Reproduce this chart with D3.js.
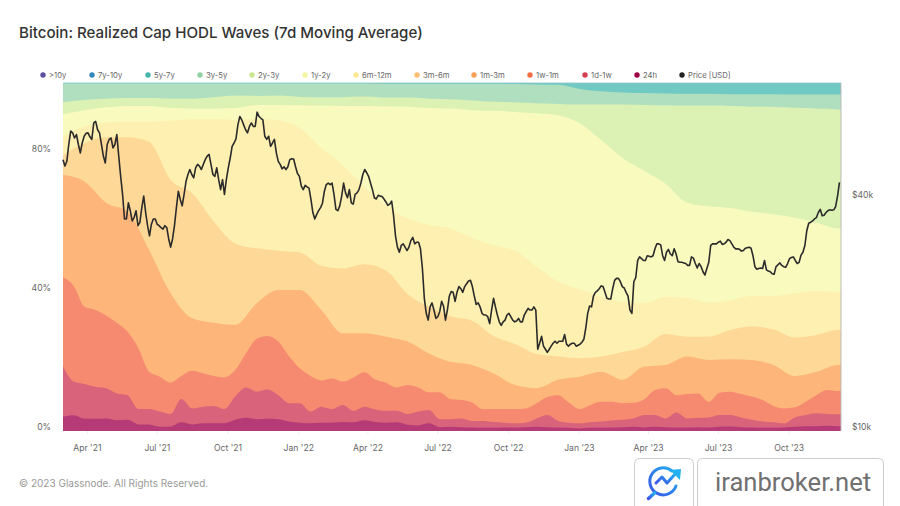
<!DOCTYPE html>
<html>
<head>
<meta charset="utf-8">
<script src="https://cdn.jsdelivr.net/npm/d3@7"></script>
<style>
html, body { margin: 0; padding: 0; background: #fff; }
svg { display: block; }
text { font-family: Inter, "Noto Sans", sans-serif; }
</style>
</head>
<body>
<svg id="chart" width="900" height="506"></svg>
<script>
// top edge of each band, cumulative percent of realized cap, sampled every 28 days
var top3to5 = [99.9,99.9,99.9,99.9,99.9,99.9,99.9,99.9,99.9,99.9,99.9,99.9,99.9,99.9,99.9,99.8,99.8,99.8,99.8,99.8,99.8,99.7,99.6,99.5,98.3,97.6,97.3,97.1,97,96.9,96.9,96.8,96.8,96.8,96.7,96.7,96.7,96.7];
var top2to3 = [94.5,95.1,95.5,95.7,95.7,95.5,95.5,95.9,96.4,96.3,96.4,96,95.9,95.9,96.1,95.8,95.8,95.5,95.3,95,94.6,94.4,94.2,94,93.8,93.8,93.8,93.7,93.6,93.5,93.5,93.4,93.2,93.1,92.9,92.7,92.4,92.3];
var top1to2 = [91,92.2,93,93.4,93.4,92.8,92.7,92.7,92.8,93.7,93.7,93.6,93.5,93.4,93.4,93.3,93.2,92.8,92.7,92.2,92,91.7,91.3,90.7,88.4,83.6,78.4,74.8,71,65.6,64.6,64.1,63,62.3,61.3,59.9,58.2,58.2];
var top6to12m = [84.6,87.5,88.6,88.9,88.9,89.2,89.6,89.6,89.4,89.6,89.2,87,81.4,76.4,70.2,64.9,61.1,59.2,58.2,55.4,53.4,51.8,47.2,42.9,40.7,38.5,37.1,36.8,38.5,38.2,36.9,37.6,38.8,38.8,39.6,40.2,39.9,39.9];
var top3to6m = [79.3,82.7,84.4,84.4,83.1,72.1,68.3,60.2,53.9,52.5,51.8,51.3,47.5,46.7,47.9,46.1,39.4,35.7,33,31.7,27.3,25,22.1,21.4,20.9,21.4,22.7,24.2,27.9,27.1,27.1,29,30,29.2,26.9,27.6,29,29];
var top1to3m = [73.6,71.6,65.6,63,52,39.6,32.4,31.1,30.5,36.7,40.5,40.5,34.8,28.1,28.1,27.1,25.7,22.3,19.9,19,16.6,13.2,12.3,14.7,15.6,17,14.7,18.5,19,21.4,20.4,20.6,20.4,19,15.8,17,19,19];

// lower bands move faster, sampled every 14 days
var top1wto1m = [44.2,41.7,35.7,34.8,33.2,31.1,28.5,23.8,17,15.6,13.9,15.8,17.3,16.6,15.8,15.4,17.5,22.3,26.5,27.3,25.7,21.5,18,15.8,14.5,15.1,14.2,15.4,16.9,14.8,13.9,12.5,13.2,12.5,11.1,11.1,9.1,8.9,8.2,6.3,6.3,6.3,6.3,6.5,8,9.8,10.3,8.2,6.3,7.5,8.4,8.4,8,8.1,9.1,11.8,12.3,10.3,10.6,10.8,8.4,11,11.3,10.6,9.9,8.9,7.2,6.5,6.8,8.4,10.3,11.8,11.5,11.5];
var top1dto1w = [18.5,14.2,13.5,12.7,12.3,10.8,10.3,6.3,6.3,5.6,4.9,9.2,6.5,7,7.2,6.3,9.9,12.5,11.3,11.9,10.3,8,8,5.6,7,6.3,7.5,5.8,7,6.2,5.8,5.8,4.9,5.6,6,3.4,3.4,3.6,2.9,2.9,2.6,2.4,2.2,2.4,3.6,4.6,2.9,2.4,2.2,2.5,2.7,3,3.2,3.6,4.6,4.6,3.6,5.3,3.6,3.8,3.9,4.6,4.6,3.9,3.2,2.7,2.5,2.2,3.9,4.6,5.1,4.9,4.8,4.8];
var top24h = [4.1,4.5,3.5,3.5,3.6,3.1,3.2,1.9,1.9,1.2,1.3,2.5,1.9,2.2,2.2,2.2,3.2,3.8,3.4,3.5,3.4,2.7,2.4,2.2,2.4,2.4,2.6,2.5,3.1,2.6,2.4,2.5,1.8,1.6,2.2,1.1,1.2,1.1,1,.9,.9,1,1,1.1,1.2,1.1,1,.9,.7,.9,.9,1,1.1,1.2,1,1.2,1.1,1,1,1.1,1,1.2,1.3,1.1,1,.9,.9,1,1.2,1.4,1.4,1.5,1.4,1.4];

// BTC price in thousands of USD, every 5 days from the start
var priceK = [50.6,50.1,60,57.6,55.4,55.9,59.2,58,63,60.5,55.4,49.6,57.1,54.3,58.8,45.8,35.5,39.1,35.1,37.3,34.8,40.7,34.1,34.4,35.5,34.1,33.4,33.7,30,34.1,41.9,38.4,44.4,47.7,45.4,49.2,47.7,50.6,52.2,46.3,48.2,42.3,41.1,48.2,54.8,57.3,65.5,62.3,59.4,63,61.7,
  65.5,64.2,57.1,54.8,57.1,50.1,47.9,47.7,50.6,50.8,46.6,43.2,43.4,42.7,36.9,36.5,38,41.9,44,44,37.6,38.4,44,40.3,39.1,41.1,42.3,46.3,46.8,44,40.3,40.9,40.6,39.3,38.8,36.2,30,30.3,30,30,31.8,30.9,29.7,22.1,19.4,21.5,19.6,20.4,21.1,
  20.6,23,21.7,23.7,22.9,24.1,24.6,22.4,21.5,20.2,20,19,22.1,20,18.8,19.4,20.2,19.4,19.3,19.2,20,20.8,20.6,20.6,16.9,16.6,16,16.6,17.1,17.1,17.1,16.8,16.8,16.9,16.7,17,18.5,21.1,22.4,23.1,23.8,22.9,22,23.4,24.9,24.4,23.5,22.4,20.2,
  25,28.3,27.7,28.5,28.3,29.7,30.6,28.5,29.1,28.8,29.7,27.5,27.4,27.2,26.9,28.1,26.5,26.7,25.4,27.4,30.6,30.6,31.1,30.6,31.4,30.6,29.7,29.6,29.4,29.9,29.8,26.7,26.4,26.4,26.2,25.9,25.5,27,26.9,26.6,28,28.3,27.2,28.6,30.3,34.6,35.1,35.8,37.6,36.3,37.3,37.4,38.2,44.2];
// readings halfway between those samples
var priceMidK = [48.7,55.4,59.4,58.8,52.7,58.2,59.4,57.1,63.6,59.4,51.7,55.4,57.6,55.4,51.7,41.1,35.5,37.3,35.8,34.1,38,36.9,32.1,35.5,34.4,33.7,34.1,31.5,31.5,38,39.9,41.1,46.3,46.3,48.2,48.7,49.2,51.7,49.2,45.8,44.9,44.9,44.9,51.1,55.9,62.3,64.2,60.5,61.7,61.7,67.2,
  64.8,58.2,58.2,55.9,52.7,49.2,48.5,48.5,50.9,48.5,45.8,42.3,43,39.9,35.5,37.3,39,43.6,43.6,41.1,37.3,40.7,41.5,42.3,38.8,41.5,44,47.7,45.8,42.3,40,40.7,40,38.5,39.5,32.1,29.1,30.6,29.4,31.2,30.6,30.9,26.4,20.2,21,20.6,19.8,21.7,19.4,
  22.4,22.9,22.9,23.4,23.7,24.5,23.7,21.3,21,20,19.8,20.6,21,19.2,19.2,20,19.8,19.2,19.6,19.2,20.4,20.6,21,16.3,17.6,16.3,16.3,16.9,16.9,17.1,17.8,16.6,16.9,16.6,16.8,17.3,20.2,21,22.9,23.4,23.7,22.1,22,24.6,24.9,23.7,22.9,20.6,24.4,
  27.7,28,27.7,28.4,28.5,30.6,30.4,27.7,29.6,28.5,28.8,27.4,27.3,26.9,28.3,27.2,27.2,25.9,26.4,30.3,30.6,30.9,30.5,30.9,31.2,30,29.7,29.3,29.8,30,28.5,26.3,26.5,27.7,26,25.6,26.7,27.3,26.7,27.2,28.2,27.7,27.4,29.1,33.1,34.8,35.5,36.9,36.2,36.9,37.5,37.5,40.7];

var pctTicks = [0, 40, 80];
var priceTicks = [10, 40];
var legendNames = ['>10y', '7y-10y', '5y-7y', '3y-5y', '2y-3y', '1y-2y', '6m-12m', '3m-6m', '1m-3m', '1w-1m', '1d-1w', '24h', 'Price [USD]'];
var legendColors = ['#5e4fa2', '#3288bd', '#45b5aa', '#8fd3a5', '#c9e88f', '#f4f6a0', '#fee88f', '#fdbe6f', '#f99e55', '#f06d43', '#d53e4f', '#9e0142', '#222222'];
var legendX = [43, 92, 148, 200, 252, 305, 356, 417, 474, 530, 585, 637, 682];

var start = new Date(Date.UTC(2021, 2, 1));
var end = new Date(Date.UTC(2023, 11, 8));

function everyDays(step, count) {
    return d3.range(count).map(function(i) {
        return d3.utcDay.offset(start, i * step);
    });
}
// last sample sits on the right edge of the plot
var dates28 = everyDays(28, 37).concat([end]);
var dates14 = everyDays(14, 73).concat([end]);

// interleave the price readings, 2.5 days apart
var pricePoints = [];
priceK.forEach(function(v, i) {
    pricePoints.push({ date: d3.utcHour.offset(start, i * 120), value: v });
    if (i < priceMidK.length) {
        pricePoints.push({ date: d3.utcHour.offset(start, i * 120 + 60), value: priceMidK[i] });
    }
});

var left = 63, right = 841, plotTop = 83, plotBottom = 431;
var svg = d3.select('#chart');

var x = d3.scaleUtc().domain([start, end]).range([left, right]);
var y = d3.scaleLinear().domain([0, 100]).range([plotBottom, plotTop]);
var yPrice = d3.scaleLog().domain([10, 80]).range([plotBottom, plotTop]);

svg.append('text')
    .attr('x', 19).attr('y', 37.5)
    .attr('font-size', 15.1).attr('font-weight', 500).attr('fill', '#333')
    .text('Bitcoin: Realized Cap HODL Waves (7d Moving Average)');

// legend
legendNames.forEach(function(name, i) {
    svg.append('circle').attr('cx', legendX[i]).attr('cy', 75).attr('r', 2.7).attr('fill', legendColors[i]);
    svg.append('text').attr('x', legendX[i] + 6).attr('y', 78)
        .attr('font-size', 7.7).attr('fill', '#666').text(name);
});

// bands are painted from the biggest down, each one covers the rest of the plot below it
var bands = [
    { color: '#70c9c3', dates: [start, end], values: [100, 100] },
    { color: '#b0dfbf', dates: dates28, values: top3to5 },
    { color: '#dcf2b5', dates: dates28, values: top2to3 },
    { color: '#f9fabd', dates: dates28, values: top1to2 },
    { color: '#fdf0b0', dates: dates28, values: top6to12m },
    { color: '#fdd896', dates: dates28, values: top3to6m },
    { color: '#fdb57a', dates: dates28, values: top1to3m },
    { color: '#f58a70', dates: dates14, values: top1wto1m },
    { color: '#d8637a', dates: dates14, values: top1dto1w },
    { color: '#b53a75', dates: dates14, values: top24h }
];

bands.forEach(function(band) {
    var area = d3.area()
        .x(function(d, i) { return x(band.dates[i]); })
        .y0(y(0))
        .y1(function(d) { return y(d); })
        .curve(d3.curveMonotoneX);
    svg.append('path').attr('d', area(band.values)).attr('fill', band.color);
});

// right edge of the plot
svg.append('line')
    .attr('x1', right).attr('x2', right).attr('y1', plotTop).attr('y2', plotBottom)
    .attr('stroke', '#bbb').attr('stroke-width', 1);
svg.append('line')
    .attr('x1', left).attr('x2', right).attr('y1', plotTop).attr('y2', plotTop)
    .attr('stroke', '#8cc4cc').attr('stroke-width', 0.8);

var priceLine = d3.line()
    .x(function(d) { return x(d.date); })
    .y(function(d) { return yPrice(d.value); });
svg.append('path')
    .attr('d', priceLine(pricePoints))
    .attr('fill', 'none').attr('stroke', '#2b2b2b')
    .attr('stroke-width', 1.6).attr('stroke-linejoin', 'round');

// axes
var monthTicks = d3.utcMonth.range(new Date(Date.UTC(2021, 3, 1)), end, 3);
var xAxis = svg.append('g')
    .attr('transform', 'translate(0,' + plotBottom + ')')
    .call(d3.axisBottom(x).tickValues(monthTicks).tickSize(3).tickPadding(11).tickFormat(d3.utcFormat("%b '%y")));
var yAxis = svg.append('g')
    .attr('transform', 'translate(' + left + ',0)')
    .call(d3.axisLeft(y).tickValues(pctTicks).tickSize(0).tickPadding(12).tickFormat(function(d) { return d + '%'; }));
var yAxisRight = svg.append('g')
    .attr('transform', 'translate(' + right + ',0)')
    .call(d3.axisRight(yPrice).tickValues(priceTicks).tickSize(0).tickPadding(11).tickFormat(function(d) { return '$' + d + 'k'; }));

[xAxis, yAxis, yAxisRight].forEach(function(g) {
    g.select('.domain').remove();
    g.selectAll('.tick line').attr('stroke', '#eee');
    g.selectAll('text').attr('font-size', 8.6).attr('fill', '#666').style('font-family', 'Inter, sans-serif');
});
// the side labels sit a little above their value
yAxis.selectAll('text').attr('dy', '-0.15em');
yAxisRight.selectAll('text').attr('dy', '-0.15em');

svg.append('text')
    .attr('x', 19).attr('y', 487)
    .attr('font-size', 10).attr('fill', '#999')
    .text('\u00a9 2023 Glassnode. All Rights Reserved.');

// watermark
var defs = svg.append('defs');
var grad = defs.append('linearGradient').attr('id', 'mark')
    .attr('x1', '0').attr('y1', '1').attr('x2', '1').attr('y2', '0');
grad.append('stop').attr('offset', '0').attr('stop-color', '#3d55e8');
grad.append('stop').attr('offset', '1').attr('stop-color', '#22b0f0');

svg.append('rect').attr('x', 634.5).attr('y', 458.5).attr('width', 59).attr('height', 60).attr('rx', 5)
    .attr('fill', '#fff').attr('stroke', '#ccc');
svg.append('rect').attr('x', 697.5).attr('y', 458.5).attr('width', 186).attr('height', 60).attr('rx', 5)
    .attr('fill', '#fff').attr('stroke', '#ccc');

var mark = svg.append('g').attr('fill', 'none').attr('stroke', 'url(#mark)')
    .attr('stroke-width', 3).attr('stroke-linecap', 'round').attr('stroke-linejoin', 'round');
mark.append('path').attr('d', 'M672 471A13.5 13.5 0 1 0 676 486');
mark.append('path').attr('stroke-width', 3.4).attr('d', 'M654.5 493L648.5 498.5');
mark.append('path').attr('d', 'M656 483L662 477L667 483L676 473');
svg.append('path').attr('d', 'M670 470L681 469L680 480Z').attr('fill', '#22b0f0');

svg.append('text')
    .attr('x', 715).attr('y', 491)
    .attr('font-size', 25.6).attr('fill', '#707070')
    .style('font-family', 'Roboto, sans-serif')
    .text('iranbroker.net');
</script>
</body>
</html>
